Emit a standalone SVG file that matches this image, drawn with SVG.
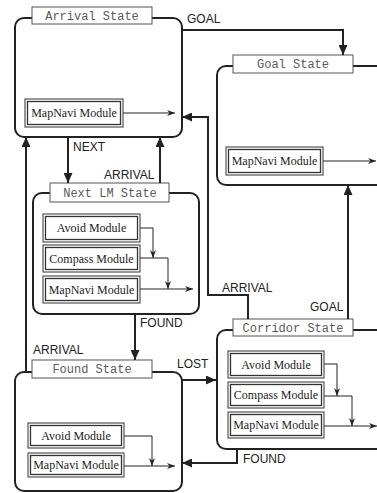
<svg xmlns="http://www.w3.org/2000/svg" width="377" height="493" viewBox="0 0 377 493">
<defs>
<marker id="big" markerUnits="userSpaceOnUse" markerWidth="10" markerHeight="9" refX="10" refY="4.5" orient="auto"><path d="M0,0 L10,4.5 L0,9 z" fill="#222"/></marker>
<marker id="small" markerUnits="userSpaceOnUse" markerWidth="8" markerHeight="6" refX="8" refY="3" orient="auto"><path d="M0,0 L8,3 L0,6 L2.5,3 z" fill="#222"/></marker>
</defs>
<style>
.state{fill:#fff;stroke:#222;stroke-width:2}
.title{fill:#fff;stroke:#555;stroke-width:1}
.tt{font-family:"Liberation Mono",monospace;font-size:12px;fill:#5a5a5a;text-anchor:middle}
.mo{fill:#fff;stroke:#333;stroke-width:1}
.mi{fill:none;stroke:#333;stroke-width:1.3}
.mt{font-family:"Liberation Serif",serif;font-size:12px;fill:#222;text-anchor:middle}
.lbl{font-family:"Liberation Sans",sans-serif;font-size:12px;fill:#222}
.c{fill:none;stroke:#222;stroke-width:2;marker-end:url(#big)}
.cia{fill:none;stroke:#222;stroke-width:1;marker-end:url(#small)}
</style>

<g id="arrival">
<rect class="state" x="15" y="18" width="167" height="119" rx="9"/>
<rect class="title" x="32" y="7" width="120" height="17"/>
<text class="tt" x="92" y="20">Arrival State</text>
<g id="arrival-mapnavi"><rect class="mo" x="25" y="99" width="98" height="28"/><rect class="mi" x="27.5" y="101.5" width="93" height="23"/><text class="mt" x="74" y="117">MapNavi Module</text></g>
</g>

<g id="goal">
<rect class="state" x="217" y="66" width="190" height="119" rx="9"/>
<rect class="title" x="233" y="55" width="120" height="18"/>
<text class="tt" x="293" y="68">Goal State</text>
<g id="goal-mapnavi"><rect class="mo" x="226" y="147" width="97" height="28"/><rect class="mi" x="228.5" y="149.5" width="92" height="23"/><text class="mt" x="274.5" y="165">MapNavi Module</text></g>
</g>

<g id="nextlm">
<rect class="state" x="33" y="193" width="166" height="121" rx="9"/>
<rect class="title" x="50" y="183" width="119" height="19"/>
<text class="tt" x="110" y="197">Next LM State</text>
<g id="nextlm-avoid"><rect class="mo" x="43" y="214" width="97" height="28"/><rect class="mi" x="45.5" y="216.5" width="92" height="23"/><text class="mt" x="91.5" y="232">Avoid Module</text></g>
<g id="nextlm-compass"><rect class="mo" x="43" y="245" width="97" height="27"/><rect class="mi" x="45.5" y="247.5" width="92" height="22"/><text class="mt" x="91.5" y="263">Compass Module</text></g>
<g id="nextlm-mapnavi"><rect class="mo" x="43" y="276" width="97" height="27"/><rect class="mi" x="45.5" y="278.5" width="92" height="22"/><text class="mt" x="91.5" y="294">MapNavi Module</text></g>
</g>

<g id="corridor">
<rect class="state" x="217" y="330" width="190" height="119" rx="9"/>
<rect class="title" x="233" y="319" width="120" height="17"/>
<text class="tt" x="293" y="332">Corridor State</text>
<g id="corridor-avoid"><rect class="mo" x="228" y="351" width="96" height="27"/><rect class="mi" x="230.5" y="353.5" width="91" height="22"/><text class="mt" x="276" y="369">Avoid Module</text></g>
<g id="corridor-compass"><rect class="mo" x="228" y="382" width="96" height="26"/><rect class="mi" x="230.5" y="384.5" width="91" height="21"/><text class="mt" x="276" y="399">Compass Module</text></g>
<g id="corridor-mapnavi"><rect class="mo" x="228" y="412" width="96" height="26"/><rect class="mi" x="230.5" y="414.5" width="91" height="21"/><text class="mt" x="276" y="429">MapNavi Module</text></g>
</g>

<g id="found">
<rect class="state" x="15" y="372" width="167" height="119" rx="9"/>
<rect class="title" x="32" y="360" width="120" height="18"/>
<text class="tt" x="92" y="373">Found State</text>
<g id="found-avoid"><rect class="mo" x="28" y="423" width="96" height="25"/><rect class="mi" x="30.5" y="425.5" width="91" height="20"/><text class="mt" x="76" y="440">Avoid Module</text></g>
<g id="found-mapnavi"><rect class="mo" x="28" y="453" width="96" height="24"/><rect class="mi" x="30.5" y="455.5" width="91" height="19"/><text class="mt" x="76" y="469">MapNavi Module</text></g>
</g>

<g id="connectors">
<polyline class="c" points="182,30 343,30 343,55"/>
<polyline class="c" points="248,319 248,295 208,295 208,117 182,117"/>
<polyline class="c" points="68,137 68,183"/>
<polyline class="c" points="160,183 160,137"/>
<polyline class="c" points="26,372 26,137"/>
<polyline class="c" points="135,314 135,360"/>
<polyline class="c" points="182,380 216,380"/>
<polyline class="c" points="348,319 348,185"/>
<polyline class="c" points="237,449 237,463 182,463"/>

<polyline class="cia" points="123,113 175,113"/>
<polyline class="cia" points="323,161 376,161"/>
<polyline class="cia" points="140,228 153,228 153,258"/>
<polyline class="cia" points="140,258 168,258 168,289"/>
<polyline class="cia" points="140,289 193,289"/>
<polyline class="cia" points="324,364 337,364 337,396"/>
<polyline class="cia" points="324,396 352,396 352,426"/>
<polyline class="cia" points="324,426 377,426"/>
<polyline class="cia" points="124,436 152,436 152,466"/>
<polyline class="cia" points="124,466 175,466"/>

<text class="lbl" x="187" y="23">GOAL</text>
<text class="lbl" x="222" y="292">ARRIVAL</text>
<text class="lbl" x="73" y="151">NEXT</text>
<text class="lbl" x="104" y="179">ARRIVAL</text>
<text class="lbl" x="33" y="354">ARRIVAL</text>
<text class="lbl" x="140" y="327">FOUND</text>
<text class="lbl" x="177" y="368">LOST</text>
<text class="lbl" x="310" y="311">GOAL</text>
<text class="lbl" x="243" y="463">FOUND</text>
</g>
</svg>
